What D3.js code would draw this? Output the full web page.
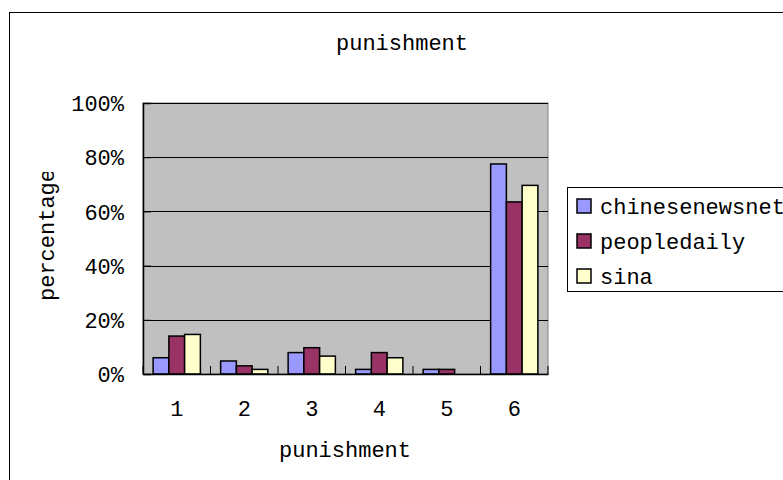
<!DOCTYPE html>
<html>
<head>
<meta charset="utf-8">
<script src="https://cdn.jsdelivr.net/npm/d3@7"></script>
<style>
  body { margin: 0; background: #fff; }
  text { font-family: "Liberation Mono", monospace; fill: #000; }
</style>
</head>
<body>
<div class="svg-content"></div>
<script>
const categories = ["1", "2", "3", "4", "5", "6"];
const seriesNames = ["chinesenewsnet", "peopledaily", "sina"];
const chinesenewsnet = [6, 4.8, 7.9, 1.7, 1.7, 77.5];
const peopledaily = [14, 3, 9.7, 7.9, 1.7, 63.5];
const sina = [14.6, 1.7, 6.6, 6, 0, 69.6];
const yTicks = [0, 20, 40, 60, 80, 100];
const colors = ["#9999FF", "#993366", "#FFFFCC"];

const svgWidth = 783;
const svgHeight = 480;
const plot = { left: 143, top: 103, right: 548, bottom: 374 };

const seriesValues = [chinesenewsnet, peopledaily, sina];
const dataset = categories.map((c, i) => ({
  cat: c,
  values: seriesNames.map((s, j) => ({ name: s, value: seriesValues[j][i], color: colors[j] }))
}));

const svg = d3.select(".svg-content")
              .append("svg")
              .attr("width", svgWidth)
              .attr("height", svgHeight);

// outer chart frame
svg.append("rect")
   .attr("x", 9.5).attr("y", 12.5)
   .attr("width", 800).attr("height", 500)
   .attr("fill", "#fff")
   .attr("stroke", "#000");

const x0 = d3.scaleBand()
             .domain(categories)
             .range([plot.left, plot.right])
             .paddingInner(0.3)
             .paddingOuter(0.15);

const x1 = d3.scaleBand()
             .domain(seriesNames)
             .range([0, x0.bandwidth()]);

const yScale = d3.scaleLinear()
                 .domain([0, 100])
                 .range([plot.bottom, plot.top]);

// plot background
svg.append("rect")
   .attr("x", plot.left).attr("y", plot.top)
   .attr("width", plot.right - plot.left)
   .attr("height", plot.bottom - plot.top)
   .attr("fill", "#C0C0C0")
   .attr("stroke", "#808080");

// gridlines
svg.append("g")
   .selectAll("line")
   .data(yTicks.slice(1))
   .enter()
   .append("line")
   .attr("x1", plot.left).attr("x2", plot.right)
   .attr("y1", d => Math.round(yScale(d)) + 0.5)
   .attr("y2", d => Math.round(yScale(d)) + 0.5)
   .attr("stroke", "#000")
   .attr("stroke-width", 1);

// bars
svg.append("g")
   .selectAll("g")
   .data(dataset)
   .enter()
   .append("g")
   .attr("transform", d => "translate(" + x0(d.cat) + ",0)")
   .selectAll("rect")
   .data(d => d.values)
   .enter()
   .append("rect")
   .attr("x", d => x1(d.name))
   .attr("y", d => yScale(d.value))
   .attr("width", x1.bandwidth())
   .attr("height", d => yScale(0) - yScale(d.value))
   .attr("fill", d => d.color)
   .attr("stroke", "#000")
   .attr("stroke-width", 1.5)
   .attr("display", d => d.value > 0 ? null : "none");

// y axis
const yAxis = d3.axisLeft(yScale)
                .tickValues(yTicks)
                .tickSize(-8)
                .tickPadding(19)
                .tickFormat(d => d + "%");

const yG = svg.append("g")
              .attr("transform", "translate(" + plot.left + ",0)")
              .call(yAxis);
yG.select(".domain").attr("stroke", "#000").attr("stroke-width", 1.5);
yG.selectAll(".tick line").attr("stroke", "#000");
yG.selectAll("text")
  .style("font-family", "Liberation Mono, monospace")
  .style("font-size", "22px")
  .attr("dy", "0.35em");

// x axis
const xAxis = d3.axisBottom(x0).tickSize(0).tickPadding(26);
const xG = svg.append("g")
              .attr("transform", "translate(0," + plot.bottom + ")")
              .call(xAxis);
xG.select(".domain").attr("stroke", "#000").attr("stroke-width", 1.5);
xG.selectAll("text")
  .style("font-family", "Liberation Mono, monospace")
  .style("font-size", "22px");

// category boundary ticks
const step = x0.step();
svg.append("g")
   .selectAll("line")
   .data(d3.range(categories.length + 1))
   .enter()
   .append("line")
   .attr("x1", i => plot.left + i * step)
   .attr("x2", i => plot.left + i * step)
   .attr("y1", plot.bottom)
   .attr("y2", plot.bottom - 8)
   .attr("stroke", "#000");

// title
svg.append("text")
   .attr("x", 402).attr("y", 50)
   .attr("text-anchor", "middle")
   .style("font-size", "22px")
   .text("punishment");

// x title
svg.append("text")
   .attr("x", 345).attr("y", 457)
   .attr("text-anchor", "middle")
   .style("font-size", "22px")
   .text("punishment");

// y title, clipped like the original
svg.append("clipPath")
   .attr("id", "yclip")
   .append("rect")
   .attr("x", 20).attr("y", 172)
   .attr("width", 60).attr("height", 200);

svg.append("g")
   .attr("clip-path", "url(#yclip)")
   .append("text")
   .attr("transform", "translate(54,301) rotate(-90)")
   .attr("text-anchor", "start")
   .style("font-size", "22px")
   .text("percentage");

// legend
const legend = svg.append("g");
legend.append("rect")
      .attr("x", 567.5).attr("y", 187.5)
      .attr("width", 260).attr("height", 104)
      .attr("fill", "#fff")
      .attr("stroke", "#000");

const items = legend.selectAll("g")
                    .data(seriesNames)
                    .enter()
                    .append("g")
                    .attr("transform", (d, i) => "translate(577," + (199 + i * 35) + ")");

items.append("rect")
     .attr("width", 14).attr("height", 14)
     .attr("fill", (d, i) => colors[i])
     .attr("stroke", "#000")
     .attr("stroke-width", 1.5);

items.append("text")
     .attr("x", 23).attr("y", 7)
     .attr("dy", "0.35em")
     .style("font-size", "22px")
     .text(d => d);
</script>
</body>
</html>
